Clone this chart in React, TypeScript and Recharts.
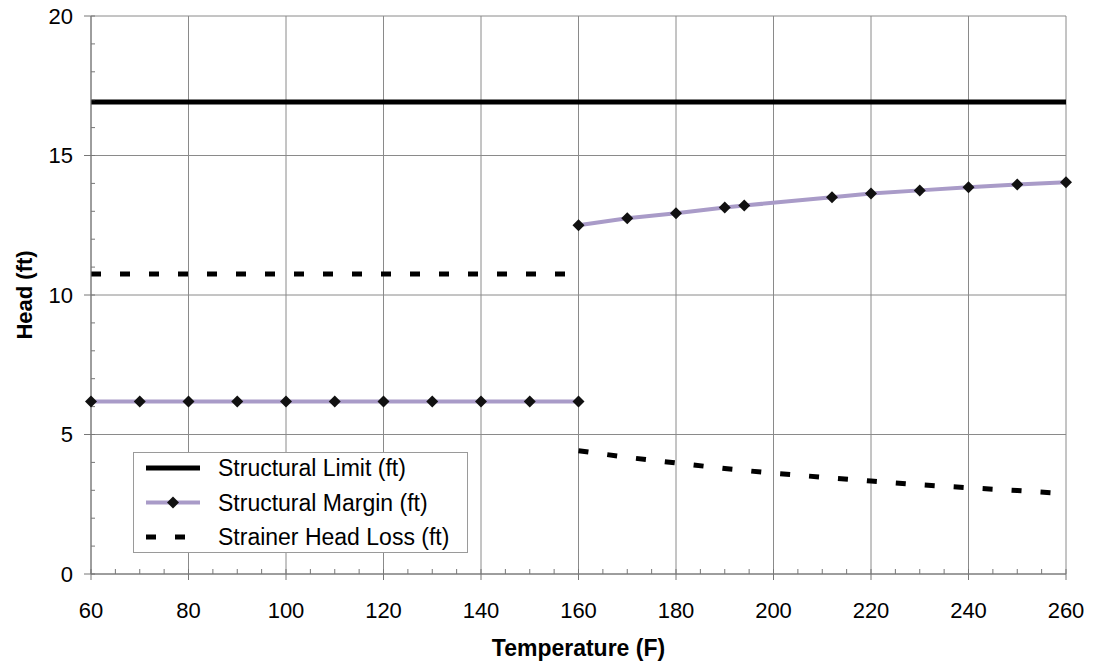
import React from 'react';
import { LineChart, Line, XAxis, YAxis, CartesianGrid, Legend } from 'recharts';

const FONT = '"Liberation Sans", Arial, Helvetica, sans-serif';

// ---- data ----
const limitTemps = [60, 260];
const limitHead = [16.92, 16.92];

const marginTempsLow = [60, 70, 80, 90, 100, 110, 120, 130, 140, 150, 160];
const marginHeadLow = [6.18, 6.18, 6.18, 6.18, 6.18, 6.18, 6.18, 6.18, 6.18, 6.18, 6.18];

const marginTempsHigh = [160, 170, 180, 190, 194, 212, 220, 230, 240, 250, 260];
const marginHeadHigh = [12.5, 12.75, 12.93, 13.14, 13.21, 13.5, 13.64, 13.75, 13.86, 13.96, 14.04];

const lossTempsLow = [60, 160];
const lossHeadLow = [10.75, 10.75];

const lossTempsHigh = [160, 170, 180, 190, 200, 210, 220, 230, 240, 250, 260];
const lossHeadHigh = [4.42, 4.18, 3.98, 3.78, 3.61, 3.47, 3.33, 3.2, 3.09, 2.99, 2.88];

const xTicks = [60, 80, 100, 120, 140, 160, 180, 200, 220, 240, 260];
const yTicks = [0, 5, 10, 15, 20];
const xMinorTicks = [60, 65, 70, 75, 80, 85, 90, 95, 100, 105, 110, 115, 120, 125, 130, 135, 140, 145, 150, 155, 160, 165, 170, 175, 180, 185, 190, 195, 200, 205, 210, 215, 220, 225, 230, 235, 240, 245, 250, 255, 260];
const yMinorTicks = [0, 1, 2, 3, 4, 5, 6, 7, 8, 9, 10, 11, 12, 13, 14, 15, 16, 17, 18, 19, 20];

const seriesNames = ['Structural Limit (ft)', 'Structural Margin (ft)', 'Strainer Head Loss (ft)'];

const toPoints = (ts: number[], vs: number[]) => ts.map((t, i) => ({ t, v: vs[i] }));

const limitData = toPoints(limitTemps, limitHead);
const marginLowData = toPoints(marginTempsLow, marginHeadLow);
const marginHighData = toPoints(marginTempsHigh, marginHeadHigh);
const lossLowData = toPoints(lossTempsLow, lossHeadLow);
const lossHighData = toPoints(lossTempsHigh, lossHeadHigh);

const MARGIN_COLOR = '#a99bc8';
const DASH = '10 19';

const Diamond = (props: any) => {
  const { cx, cy, key } = props;
  if (cx == null || cy == null) return <g key={key} />;
  const r = 6;
  return (
    <path
      key={key}
      d={`M${cx},${cy - r}L${cx + r},${cy}L${cx},${cy + r}L${cx - r},${cy}Z`}
      fill="#111"
    />
  );
};

const EmptyTick = () => <g />;

const TICK_STYLE = { fontSize: 22, fill: '#000', fontFamily: FONT };

const renderLegend = () => (
  <svg width={335} height={101} style={{ display: 'block' }}>
    <rect x={0.5} y={0.5} width={334} height={100} fill="#fff" stroke="#9a9a9a" strokeWidth={1} />
    <line x1={13} x2={67} y1={16} y2={16} stroke="#000" strokeWidth={5} />
    <line x1={13} x2={67} y1={50.5} y2={50.5} stroke={MARGIN_COLOR} strokeWidth={4} />
    <path d="M40,44.5L46,50.5L40,56.5L34,50.5Z" fill="#111" />
    <line x1={13} x2={67} y1={85} y2={85} stroke="#000" strokeWidth={5} strokeDasharray={DASH} />
    {seriesNames.map((n, i) => (
      <text
        key={n}
        x={85}
        y={16 + i * 34.5}
        dy="0.35em"
        fontFamily={FONT}
        fontSize={23}
        fill="#000"
      >
        {n}
      </text>
    ))}
  </svg>
);

export default function App() {
  return (
    <div style={{ marginTop: -8, marginLeft: -8, width: 1094, height: 665 }}>
      <LineChart width={1094} height={665} margin={{ top: 16, right: 28, left: 0, bottom: 0 }}>
        <CartesianGrid stroke="#8a8a8a" strokeWidth={1} />
        <XAxis
          dataKey="t"
          type="number"
          domain={[60, 260]}
          ticks={xTicks}
          interval={0}
          height={91}
          stroke="#777"
          fontSize={22}
          fontFamily={FONT}
          tickSize={6}
          tickMargin={22}
          tick={TICK_STYLE}
          label={{
            value: 'Temperature (F)',
            position: 'insideBottom',
            offset: 9,
            style: { fontWeight: 'bold', fontSize: 23, fill: '#000', fontFamily: FONT },
          }}
        />
        <XAxis
          xAxisId="minor"
          dataKey="t"
          type="number"
          domain={[60, 260]}
          allowDataOverflow
          ticks={xMinorTicks}
          interval={0}
          height={1}
          mirror
          axisLine={false}
          tickSize={5}
          tickLine={{ stroke: '#777' }}
          tick={EmptyTick}
        />
        <YAxis
          type="number"
          domain={[0, 20]}
          ticks={yTicks}
          interval={0}
          width={91}
          stroke="#777"
          fontSize={22}
          fontFamily={FONT}
          tickSize={7}
          tickMargin={11}
          tick={TICK_STYLE}
          label={{
            value: 'Head (ft)',
            angle: -90,
            position: 'insideLeft',
            offset: 24,
            style: { textAnchor: 'middle', fontWeight: 'bold', fontSize: 22, fill: '#000', fontFamily: FONT },
          }}
        />
        <YAxis
          yAxisId="minor"
          type="number"
          domain={[0, 20]}
          allowDataOverflow
          ticks={yMinorTicks}
          interval={0}
          width={1}
          mirror
          axisLine={false}
          tickSize={4}
          tickLine={{ stroke: '#777' }}
          tick={EmptyTick}
        />
        <Legend
          layout="vertical"
          align="center"
          verticalAlign="middle"
          content={renderLegend}
          wrapperStyle={{ left: 133, top: 452, width: 335, height: 101 }}
        />
        <Line
          name={seriesNames[0]}
          data={limitData}
          dataKey="v"
          stroke="#000"
          strokeWidth={5}
          dot={false}
          activeDot={false}
          isAnimationActive={false}
        />
        <Line
          name={seriesNames[1]}
          data={marginLowData}
          dataKey="v"
          stroke={MARGIN_COLOR}
          strokeWidth={4}
          dot={Diamond}
          activeDot={false}
          isAnimationActive={false}
        />
        <Line
          name={seriesNames[1] + ' high'}
          data={marginHighData}
          dataKey="v"
          stroke={MARGIN_COLOR}
          strokeWidth={4}
          dot={Diamond}
          activeDot={false}
          legendType="none"
          isAnimationActive={false}
        />
        <Line
          name={seriesNames[2]}
          data={lossLowData}
          dataKey="v"
          stroke="#000"
          strokeWidth={5}
          strokeDasharray={DASH}
          dot={false}
          activeDot={false}
          isAnimationActive={false}
        />
        <Line
          name={seriesNames[2] + ' high'}
          data={lossHighData}
          dataKey="v"
          stroke="#000"
          strokeWidth={5}
          strokeDasharray={DASH}
          dot={false}
          activeDot={false}
          legendType="none"
          isAnimationActive={false}
        />
      </LineChart>
    </div>
  );
}
